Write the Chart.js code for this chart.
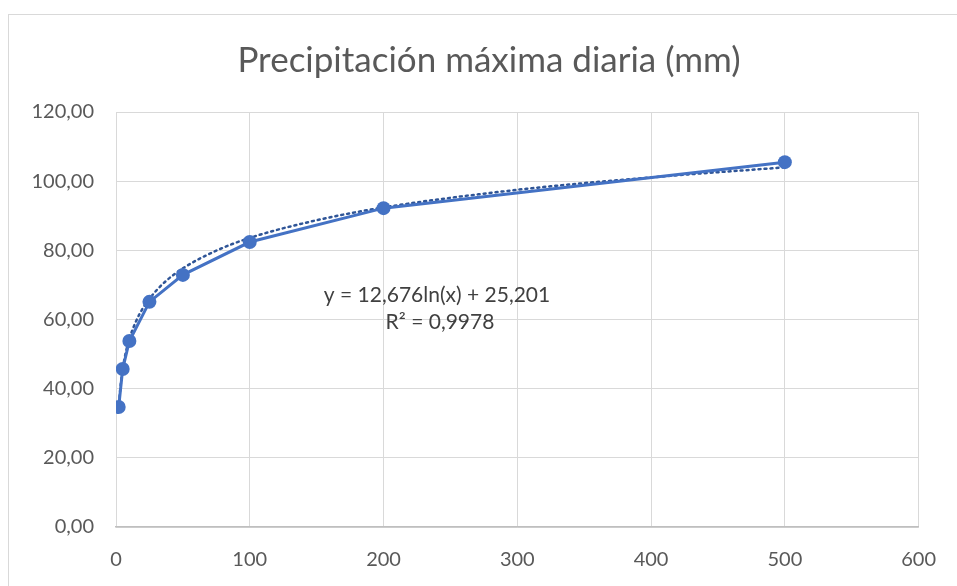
<!DOCTYPE html>
<html>
<head>
<meta charset="utf-8">
<script src="https://cdn.jsdelivr.net/npm/chart.js@4.4.1/dist/chart.umd.min.js"></script>
<style>
  html, body { margin: 0; padding: 0; background: #fff; }
  #wrap { width: 957px; height: 586px; position: relative; }
</style>
</head>
<body>
<div id="wrap"><canvas id="precipChart"></canvas></div>
<script>
// periodo de retorno (años) y precipitación máxima diaria (mm)
var periodos = [2, 5, 10, 25, 50, 100, 200, 500];
var precip = [34.7, 45.7, 53.8, 65.1, 72.9, 82.4, 92.2, 105.5];

// línea de tendencia logarítmica
var tendX = [2, 3, 5, 7, 10, 15, 20, 25, 35, 50, 75, 100, 150, 200, 300, 400, 500];
var tendY = [34.0, 39.1, 45.6, 49.9, 54.4, 59.5, 63.2, 66.0, 70.3, 74.8, 79.9, 83.6, 88.7, 92.4, 97.5, 101.1, 104.0];

var xTicks = [0, 100, 200, 300, 400, 500, 600];
var yTicks = [0, 20, 40, 60, 80, 100, 120];

var titulo = 'Precipitación máxima diaria (mm)';
var ecuacion = ['y = 12,676ln(x) + 25,201', 'R² = 0,9978'];

function toPoints(xs, ys) {
    return xs.map(function (x, i) { return { x: x, y: ys[i] }; });
}

var frame = {
    id: 'frame',
    beforeDraw: function (chart) {
        var ctx = chart.ctx;
        ctx.save();
        ctx.fillStyle = '#ffffff';
        ctx.fillRect(0, 0, chart.width, chart.height);
        ctx.strokeStyle = '#d9d9d9';
        ctx.lineWidth = 1;
        ctx.strokeRect(8.5, 14.5, chart.width, chart.height);
        // titulo
        ctx.font = '35px Lato';
        ctx.fillStyle = '#595959';
        ctx.textAlign = 'center';
        ctx.textBaseline = 'middle';
        ctx.fillText(titulo, 489, 61);
        ctx.restore();
    },
    afterDatasetsDraw: function (chart) {
        var ctx = chart.ctx;
        ctx.save();
        ctx.font = '21px Lato';
        ctx.fillStyle = '#404040';
        ctx.textAlign = 'center';
        ctx.textBaseline = 'middle';
        ctx.fillText(ecuacion[0], 437, 295);
        ctx.fillText(ecuacion[1], 440, 322);
        ctx.restore();
    }
};

var ctx = document.getElementById('precipChart').getContext('2d');
var precipChart = new Chart(ctx, {
    type: 'scatter',
    data: {
        datasets: [{
            label: 'Tendencia',
            data: toPoints(tendX, tendY),
            showLine: true,
            borderColor: '#2f5597',
            borderWidth: 2.5,
            borderDash: [2, 4],
            borderCapStyle: 'round',
            pointRadius: 0,
            cubicInterpolationMode: 'monotone',
            order: 2
        }, {
            label: 'Precipitación máxima diaria (mm)',
            data: toPoints(periodos, precip),
            showLine: true,
            borderColor: '#4472c4',
            backgroundColor: '#4472c4',
            borderWidth: 3,
            pointRadius: 7,
            pointBorderWidth: 0,
            order: 1
        }]
    },
    options: {
        responsive: true,
        maintainAspectRatio: false,
        animation: false,
        layout: {
            padding: { left: 0, right: 36, top: 112, bottom: 0 }
        },
        plugins: {
            legend: { display: false },
            tooltip: { enabled: false },
            title: { display: false }
        },
        scales: {
            x: {
                type: 'linear',
                min: 0,
                max: 600,
                afterBuildTicks: function (scale) {
                    scale.ticks = xTicks.map(function (v) { return { value: v }; });
                },
                afterFit: function (scale) { scale.height = 59; },
                grid: { color: '#d9d9d9', lineWidth: 1, drawTicks: false },
                border: { color: '#bfbfbf', width: 1.5 },
                ticks: {
                    color: '#595959',
                    font: { family: 'Lato', size: 20 },
                    padding: 21
                }
            },
            y: {
                min: 0,
                max: 120,
                afterBuildTicks: function (scale) {
                    scale.ticks = yTicks.map(function (v) { return { value: v }; });
                },
                afterFit: function (scale) { scale.width = 116; },
                grid: { color: '#d9d9d9', lineWidth: 1, drawTicks: false },
                border: { display: false },
                ticks: {
                    color: '#595959',
                    font: { family: 'Lato', size: 20 },
                    padding: 22,
                    callback: function (v) { return v.toFixed(2).replace('.', ','); }
                }
            }
        }
    },
    plugins: [frame]
});
</script>
</body>
</html>
